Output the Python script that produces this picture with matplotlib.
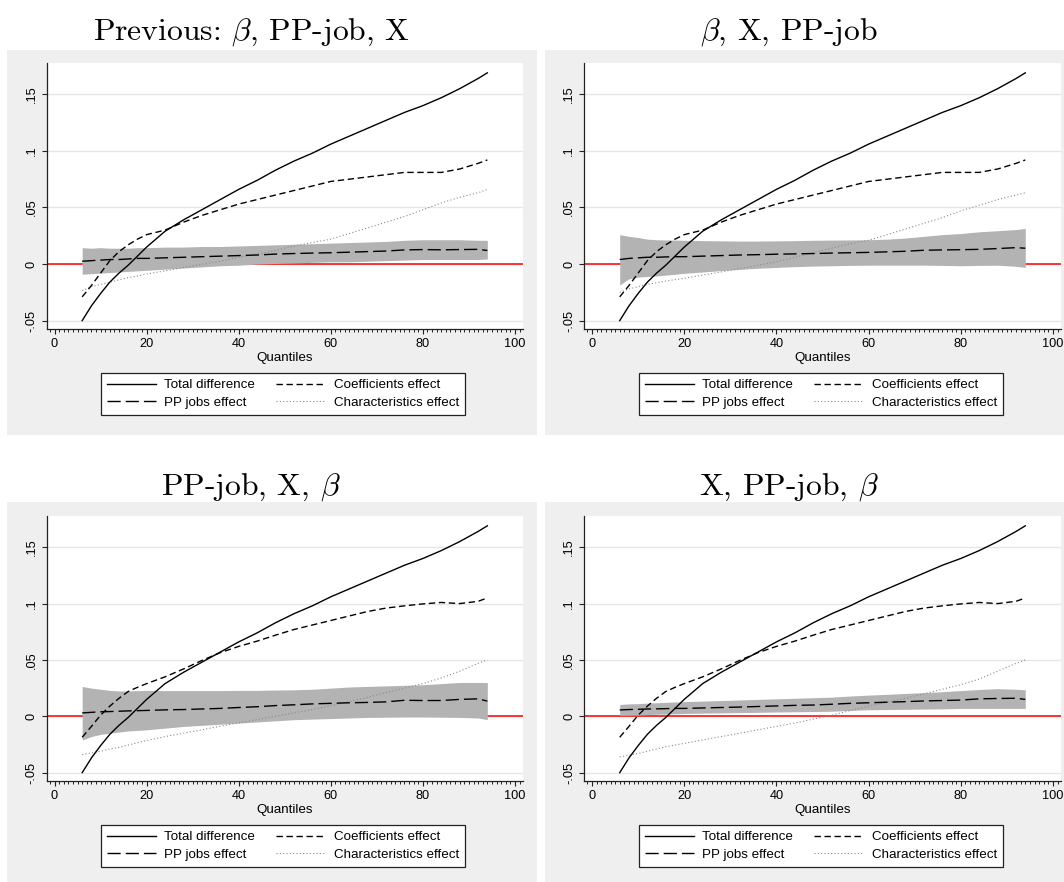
import matplotlib
matplotlib.use('Agg')
import matplotlib.pyplot as plt
from matplotlib.patches import Rectangle
from matplotlib.ticker import MultipleLocator
from matplotlib.lines import Line2D

W, H = 1064, 882
plt.rcParams['mathtext.fontset'] = 'cm'
plt.rcParams['font.family'] = ['Liberation Sans', 'DejaVu Sans']

# ---------------- data ----------------
quantiles = [6, 8, 10, 12, 14, 16, 18, 20, 24, 28, 32, 36, 40, 44, 48, 52,
             56, 60, 64, 68, 72, 76, 80, 84, 88, 92, 94]

total_difference = [-0.050, -0.037, -0.026, -0.016, -0.008, -0.001, 0.007, 0.015,
                    0.029, 0.039, 0.048, 0.057, 0.066, 0.074, 0.083, 0.091,
                    0.098, 0.106, 0.113, 0.120, 0.127, 0.134, 0.140, 0.147,
                    0.155, 0.164, 0.169]

coef_top = [-0.029, -0.019, -0.008, 0.003, 0.011, 0.017, 0.022, 0.026,
            0.030, 0.037, 0.043, 0.048, 0.053, 0.057, 0.061, 0.065,
            0.069, 0.073, 0.075, 0.077, 0.079, 0.081, 0.081, 0.081,
            0.084, 0.089, 0.092]
coef_bottom = [-0.0186, -0.009, 0.001, 0.009, 0.016, 0.022, 0.0257, 0.029,
               0.035, 0.042, 0.0495, 0.0565, 0.062, 0.0667, 0.072, 0.077,
               0.081, 0.085, 0.089, 0.093, 0.096, 0.098, 0.0997, 0.101,
               0.100, 0.102, 0.105]

chars_1 = [-0.0235, -0.020, -0.018, -0.016, -0.014, -0.012, -0.0106, -0.0088,
           -0.006, -0.003, -0.0003, 0.0026, 0.006, 0.0088, 0.012, 0.016,
           0.019, 0.022, 0.027, 0.032, 0.037, 0.042, 0.048, 0.054,
           0.059, 0.063, 0.066]
chars_2 = [-0.025, -0.022, -0.020, -0.018, -0.0165, -0.015, -0.0138, -0.0126,
           -0.0098, -0.007, -0.004, -0.001, 0.002, 0.006, 0.010, 0.014,
           0.018, 0.021, 0.026, 0.031, 0.036, 0.041, 0.047, 0.052,
           0.057, 0.061, 0.063]
chars_3 = [-0.034, -0.0325, -0.031, -0.029, -0.0275, -0.0255, -0.0235, -0.0215,
           -0.018, -0.015, -0.012, -0.0088, -0.0058, -0.003, 0.000, 0.003,
           0.006, 0.0095, 0.013, 0.017, 0.021, 0.025, 0.029, 0.034,
           0.040, 0.047, 0.050]
chars_4 = [-0.036, -0.0345, -0.033, -0.031, -0.029, -0.027, -0.0255, -0.024,
           -0.021, -0.018, -0.015, -0.012, -0.009, -0.006, -0.0025, 0.001,
           0.005, 0.009, 0.0125, 0.016, 0.020, 0.024, 0.028, 0.033,
           0.040, 0.047, 0.050]

pp_1 = [0.0025, 0.003, 0.0035, 0.004, 0.004, 0.0045, 0.005, 0.005,
        0.0055, 0.006, 0.0065, 0.007, 0.0075, 0.008, 0.0088, 0.0093,
        0.0097, 0.010, 0.0105, 0.011, 0.0115, 0.0125, 0.0128, 0.0126,
        0.0128, 0.013, 0.012]
pp_2 = [0.004, 0.005, 0.0055, 0.006, 0.006, 0.0063, 0.0065, 0.0065,
        0.007, 0.0075, 0.008, 0.0083, 0.0087, 0.009, 0.0093, 0.0097,
        0.010, 0.0103, 0.0108, 0.0113, 0.0122, 0.0125, 0.0127, 0.013,
        0.0137, 0.0145, 0.014]
pp_3 = [0.003, 0.0035, 0.004, 0.0042, 0.0045, 0.0048, 0.005, 0.0052,
        0.0057, 0.006, 0.0065, 0.007, 0.0078, 0.0085, 0.0095, 0.0102,
        0.011, 0.0115, 0.012, 0.0123, 0.0128, 0.0142, 0.014, 0.014,
        0.015, 0.0155, 0.0135]
pp_4 = [0.0056, 0.006, 0.0062, 0.0065, 0.0066, 0.0068, 0.007, 0.007,
        0.0074, 0.0078, 0.0082, 0.0087, 0.0092, 0.0097, 0.010, 0.0107,
        0.0115, 0.012, 0.0125, 0.013, 0.0136, 0.014, 0.0144, 0.0155,
        0.0158, 0.016, 0.015]

pp_hi_1 = [0.0145, 0.014, 0.0145, 0.014, 0.014, 0.014, 0.0145, 0.0145,
           0.015, 0.015, 0.0155, 0.0155, 0.016, 0.0165, 0.017, 0.0175,
           0.018, 0.0185, 0.019, 0.0195, 0.020, 0.021, 0.0215, 0.0215,
           0.0215, 0.021, 0.021]
pp_lo_1 = [-0.009, -0.0085, -0.008, -0.0075, -0.007, -0.0065, -0.006, -0.0055,
           -0.0045, -0.0035, -0.0025, -0.0015, -0.001, 0.000, 0.0005, 0.001,
           0.0015, 0.002, 0.002, 0.0025, 0.003, 0.0035, 0.004, 0.004,
           0.004, 0.004, 0.0045]
pp_hi_2 = [0.026, 0.0245, 0.0235, 0.022, 0.0215, 0.0213, 0.0212, 0.021,
           0.0207, 0.0205, 0.0203, 0.0203, 0.0205, 0.0207, 0.021, 0.0212,
           0.0213, 0.0215, 0.022, 0.023, 0.0245, 0.026, 0.027, 0.0285,
           0.0295, 0.0305, 0.0315]
pp_lo_2 = [-0.0185, -0.013, -0.0115, -0.011, -0.0105, -0.0098, -0.009, -0.0082,
           -0.007, -0.0058, -0.0047, -0.0037, -0.003, -0.0023, -0.0018, -0.0015,
           -0.0012, -0.001, -0.001, -0.001, -0.001, -0.0012, -0.0015, -0.0012,
           -0.001, -0.002, -0.003]
pp_hi_3 = [0.0265, 0.025, 0.024, 0.023, 0.0225, 0.0225, 0.0228, 0.023,
           0.0228, 0.0228, 0.0228, 0.0228, 0.023, 0.023, 0.0233, 0.0235,
           0.024, 0.025, 0.026, 0.0265, 0.027, 0.0275, 0.028, 0.029,
           0.030, 0.030, 0.030]
pp_lo_3 = [-0.021, -0.018, -0.016, -0.015, -0.014, -0.013, -0.0125, -0.012,
           -0.0105, -0.009, -0.008, -0.007, -0.006, -0.005, -0.004, -0.003,
           -0.0025, -0.002, -0.0015, -0.001, -0.0008, -0.0006, -0.0006, -0.0008,
           -0.001, -0.0015, -0.003]
pp_hi_4 = [0.0105, 0.011, 0.0112, 0.0117, 0.012, 0.0124, 0.0127, 0.013,
           0.0135, 0.014, 0.0145, 0.015, 0.0155, 0.016, 0.0165, 0.017,
           0.018, 0.0188, 0.0195, 0.0203, 0.021, 0.0218, 0.0228, 0.0238,
           0.0245, 0.024, 0.0235]
pp_lo_4 = [0.0008, 0.001, 0.0012, 0.0015, 0.0018, 0.002, 0.0022, 0.0025,
           0.0028, 0.003, 0.0033, 0.0035, 0.0038, 0.004, 0.0042, 0.0045,
           0.0052, 0.0058, 0.006, 0.0062, 0.0064, 0.0066, 0.007, 0.007,
           0.007, 0.007, 0.007]

titles = [r"Previous: $\beta$, PP-job, X", r"$\beta$, X, PP-job",
          r"PP-job, X, $\beta$", r"X, PP-job, $\beta$"]
series_labels = ["Total difference", "Coefficients effect",
                 "PP jobs effect", "Characteristics effect"]
x_ticks = [0, 20, 40, 60, 80, 100]
y_ticks = [-0.05, 0, 0.05, 0.1, 0.15]
y_tick_labels = ["-.05", "0", ".05", ".1", ".15"]
x_label = "Quantiles"

# ---------------- styles ----------------
BG = '#efefef'
BAND = '#b3b3b3'
FS_TICK = 9.2
FS = 9.6
st_total = dict(color='black', lw=1.0, linestyle='-')
st_coef = dict(color='black', lw=1.0, linestyle=(0, (4.6, 2.6)))
st_pp = dict(color='black', lw=1.0, linestyle=(0, (9.5, 3.6)))
st_char = dict(color='#8a8a8a', lw=0.8, linestyle=(0, (1, 2)))

fig = plt.figure(figsize=(W / 100, H / 100), dpi=100)
fig.patch.set_facecolor('white')


def fr(x0, y0, x1, y1):
    return [x0 / W, 1 - y1 / H, (x1 - x0) / W, (y1 - y0) / H]


panels = [
    dict(bg=(7, 50, 537, 435), ax=(46.5, 63, 523, 329), tt=(251, 40), lg=(283, 373),
         coef=coef_top, chars=chars_1, pp=pp_1, lo=pp_lo_1, hi=pp_hi_1),
    dict(bg=(545, 50, 1064, 435), ax=(584, 63, 1061, 329), tt=(789, 40), lg=(821, 373),
         coef=coef_top, chars=chars_2, pp=pp_2, lo=pp_lo_2, hi=pp_hi_2),
    dict(bg=(7, 502, 537, 882), ax=(46.5, 516, 523, 781), tt=(251, 495), lg=(283, 825),
         coef=coef_bottom, chars=chars_3, pp=pp_3, lo=pp_lo_3, hi=pp_hi_3),
    dict(bg=(545, 502, 1064, 882), ax=(584, 516, 1061, 781), tt=(789, 495), lg=(821, 825),
         coef=coef_bottom, chars=chars_4, pp=pp_4, lo=pp_lo_4, hi=pp_hi_4),
]

for i, p in enumerate(panels):
    x0, y0, x1, y1 = p['bg']
    fig.add_artist(Rectangle((x0 / W, 1 - y1 / H), (x1 - x0) / W, (y1 - y0) / H,
                             transform=fig.transFigure, facecolor=BG,
                             edgecolor='none', zorder=-5))
    ax = fig.add_axes(fr(*p['ax']))
    ax.set_facecolor('white')
    ax.set_xlim(-1.75, 101.75)
    ax.set_ylim(-0.0574, 0.1777)

    ax.axhline(0, color='red', lw=1.1, zorder=1.5)
    ax.fill_between(quantiles, p['lo'], p['hi'], color=BAND, lw=0, zorder=2)
    ax.plot(quantiles, p['chars'], zorder=3, **st_char)
    ax.plot(quantiles, p['pp'], zorder=3.2, **st_pp)
    ax.plot(quantiles, p['coef'], zorder=3.3, **st_coef)
    ax.plot(quantiles, total_difference, zorder=3.4, **st_total)

    ax.set_xticks(x_ticks)
    ax.xaxis.set_minor_locator(MultipleLocator(1))
    ax.set_yticks(y_ticks)
    ax.set_yticklabels(y_tick_labels, rotation=90, va='center')
    ax.tick_params(axis='both', which='major', length=3.8, width=0.8,
                   color='#222222', labelsize=FS_TICK, pad=2.5)
    ax.tick_params(axis='x', which='minor', length=2.2, width=0.7, color='#222222')
    ax.yaxis.grid(True, color='#e6e6e6', lw=1.0)
    ax.set_axisbelow(True)
    for s in ['top', 'right']:
        ax.spines[s].set_visible(False)
    for s in ['left', 'bottom']:
        ax.spines[s].set_color('#222222')
        ax.spines[s].set_linewidth(0.9)
    ax.set_xlabel(x_label, fontsize=FS, labelpad=1.5)

    handles = [Line2D([], [], **st_total), Line2D([], [], **st_pp),
               Line2D([], [], **st_coef), Line2D([], [], **st_char)]
    labels = [series_labels[0], series_labels[2], series_labels[1], series_labels[3]]
    cx, top = p['lg']
    leg = ax.legend(handles, labels, ncol=2, loc='upper center',
                    bbox_to_anchor=(cx / W, 1 - top / H), bbox_transform=fig.transFigure,
                    borderaxespad=0, frameon=True, fancybox=False,
                    edgecolor='#222222', framealpha=1,
                    fontsize=FS, handlelength=3.7, handletextpad=0.6,
                    columnspacing=1.6, labelspacing=0.38, borderpad=0.45)
    leg.get_frame().set_linewidth(0.9)

    tx, ty = p['tt']
    fig.text(tx / W, 1 - ty / H, titles[i], ha='center', va='baseline',
             fontsize=22.8, fontfamily='cmr10', color='black')

fig.savefig('out.png', dpi=100)
